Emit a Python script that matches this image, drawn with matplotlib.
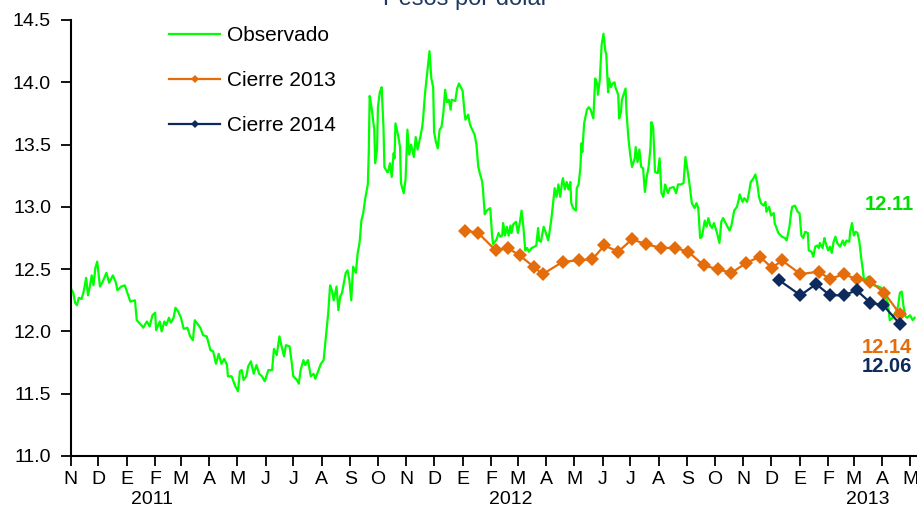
import matplotlib
matplotlib.use("Agg")
import matplotlib.pyplot as plt
import matplotlib.dates as mdates
import matplotlib.transforms as mtransforms
from matplotlib.ticker import FuncFormatter, MultipleLocator
import pandas as pd

plt.rcParams['font.family'] = ['Liberation Sans', 'DejaVu Sans']

# ---------------------------------------------------------------------------
# Datos
# ---------------------------------------------------------------------------
inicio = pd.Timestamp('2010-11-01')

# Tipo de cambio observado: días transcurridos desde el 1-nov-2010 y nivel
obs_dias = [
    0, 3, 5, 7, 9, 12, 14, 17, 19, 21,
    23, 25, 27, 29, 32, 35, 39, 42, 46, 49,
    51, 55, 59, 65, 70, 72, 77, 79, 83, 86,
    89, 92, 93, 97, 99, 102, 104, 107, 109, 112,
    114, 117, 120, 123, 127, 130, 133, 135, 141, 144,
    148, 152, 155, 158, 161, 164, 167, 170, 171, 175,
    179, 182, 184, 186, 188, 191, 193, 196, 199, 202,
    205, 208, 211, 215, 219, 221, 224, 227, 229, 232,
    234, 238, 240, 242, 246, 248, 250, 253, 255, 258,
    261, 264, 266, 269, 272, 275, 280, 282, 284, 286,
    289, 291, 293, 295, 299, 301, 303, 305, 307, 310,
    312, 314, 316, 318, 320, 323, 324, 325, 327, 330,
    331, 333, 334, 336, 338, 340, 341, 344, 345, 347,
    349, 351, 352, 353, 356, 358, 359, 362, 364, 366,
    368, 370, 373, 375, 377, 380, 382, 383, 385, 388,
    390, 392, 394, 395, 397, 399, 401, 403, 405, 407,
    409, 411, 413, 414, 418, 420, 422, 426, 428, 429,
    432, 434, 437, 439, 441, 443, 445, 447, 448, 450,
    452, 456, 458, 459, 463, 465, 467, 469, 470, 472,
    474, 476, 478, 479, 481, 484, 486, 488, 490, 492,
    494, 496, 498, 501, 504, 506, 508, 509, 511, 514,
    516, 519, 522, 524, 526, 528, 530, 532, 534, 535,
    537, 539, 541, 543, 544, 546, 549, 550, 552, 554,
    555, 556, 558, 561, 563, 565, 568, 570, 572, 573,
    575, 577, 579, 581, 582, 584, 585, 587, 589, 591,
    592, 595, 596, 598, 599, 603, 604, 606, 608, 610,
    613, 614, 616, 618, 620, 622, 624, 626, 628, 630,
    631, 633, 635, 638, 640, 642, 644, 646, 649, 651,
    655, 658, 660, 663, 666, 668, 671, 673, 675, 678,
    680, 682, 684, 686, 689, 691, 693, 695, 697, 699,
    702, 705, 707, 709, 713, 716, 718, 721, 724, 726,
    727, 730, 732, 735, 737, 739, 742, 744, 746, 748,
    750, 753, 755, 756, 759, 761, 764, 765, 769, 773,
    776, 778, 781, 783, 784, 787, 790, 792, 794, 796,
    798, 801, 802, 805, 807, 809, 811, 813, 814, 817,
    819, 820, 823, 825, 827, 829, 831, 833, 836, 839,
    841, 843, 846, 847, 849, 851, 853, 855, 857, 859,
    861, 862, 867, 871, 873, 878, 881, 885, 888, 890,
    893, 896, 899, 901, 903, 905, 907, 909, 912, 915, 917,
]
obs_valor = [
    12.35, 12.31, 12.23, 12.21, 12.27, 12.26, 12.31, 12.43, 12.29, 12.36,
    12.45, 12.37, 12.51, 12.56, 12.36, 12.40, 12.47, 12.39, 12.45, 12.40,
    12.33, 12.36, 12.37, 12.24, 12.25, 12.09, 12.05, 12.03, 12.08, 12.04,
    12.13, 12.15, 12.01, 12.08, 12.00, 12.08, 12.05, 12.11, 12.07, 12.11,
    12.19, 12.16, 12.11, 12.02, 12.03, 11.96, 11.93, 12.09, 12.03, 11.97,
    11.96, 11.85, 11.84, 11.74, 11.82, 11.74, 11.78, 11.73, 11.64, 11.64,
    11.56, 11.52, 11.68, 11.69, 11.61, 11.64, 11.72, 11.76, 11.66, 11.73,
    11.66, 11.64, 11.60, 11.69, 11.69, 11.86, 11.81, 11.96, 11.89, 11.80,
    11.89, 11.88, 11.77, 11.64, 11.61, 11.58, 11.69, 11.77, 11.73, 11.77,
    11.64, 11.66, 11.62, 11.68, 11.74, 11.77, 12.15, 12.37, 12.33, 12.25,
    12.36, 12.17, 12.28, 12.31, 12.47, 12.49, 12.41, 12.25, 12.52, 12.47,
    12.63, 12.71, 12.89, 12.95, 13.06, 13.18, 13.43, 13.89, 13.80, 13.62,
    13.35, 13.46, 13.80, 13.92, 13.96, 13.64, 13.32, 13.28, 13.28, 13.35,
    13.24, 13.43, 13.39, 13.67, 13.57, 13.48, 13.19, 13.11, 13.22, 13.62,
    13.42, 13.50, 13.40, 13.56, 13.46, 13.56, 13.64, 13.70, 13.90, 14.11,
    14.25, 14.03, 13.96, 13.60, 13.52, 13.47, 13.62, 13.64, 13.75, 13.94,
    13.84, 13.86, 13.78, 13.86, 13.85, 13.95, 13.99, 13.93, 13.76, 13.70,
    13.74, 13.66, 13.61, 13.58, 13.50, 13.32, 13.26, 13.21, 13.15, 12.94,
    12.97, 12.99, 12.77, 12.70, 12.74, 12.79, 12.76, 12.77, 12.87, 12.77,
    12.84, 12.77, 12.85, 12.79, 12.86, 12.88, 12.79, 12.87, 12.97, 12.84,
    12.65, 12.67, 12.64, 12.67, 12.68, 12.69, 12.83, 12.73, 12.72, 12.84,
    12.80, 12.73, 12.88, 13.01, 13.15, 13.08, 13.18, 13.08, 13.20, 13.23,
    13.14, 13.20, 13.14, 13.20, 13.03, 12.99, 12.97, 13.15, 13.18, 13.32,
    13.51, 13.44, 13.67, 13.78, 13.80, 13.78, 13.71, 14.03, 13.99, 13.90,
    14.02, 14.30, 14.39, 14.25, 14.23, 13.92, 14.03, 13.96, 13.99, 14.00,
    13.96, 13.90, 13.71, 13.76, 13.86, 13.95, 13.76, 13.56, 13.42, 13.32,
    13.39, 13.48, 13.36, 13.46, 13.32, 13.31, 13.12, 13.24, 13.32, 13.47,
    13.68, 13.64, 13.28, 13.27, 13.39, 13.11, 13.08, 13.18, 13.11, 13.15,
    13.16, 13.11, 13.18, 13.18, 13.19, 13.40, 13.26, 13.15, 13.03, 12.99,
    13.03, 12.99, 12.75, 12.76, 12.89, 12.84, 12.91, 12.85, 12.83, 12.87,
    12.80, 12.71, 12.88, 12.91, 12.85, 12.81, 12.85, 12.97, 13.00, 13.06,
    13.10, 13.04, 13.07, 13.04, 13.11, 13.20, 13.23, 13.26, 13.19, 13.08,
    13.03, 13.01, 13.04, 12.96, 13.00, 12.93, 12.95, 12.87, 12.79, 12.76,
    12.75, 12.73, 12.84, 12.96, 13.00, 13.01, 12.96, 12.95, 12.77, 12.75,
    12.80, 12.79, 12.65, 12.64, 12.60, 12.68, 12.69, 12.67, 12.71, 12.67,
    12.75, 12.72, 12.65, 12.68, 12.63, 12.72, 12.76, 12.71, 12.68, 12.73,
    12.69, 12.73, 12.72, 12.80, 12.87, 12.77, 12.80, 12.79, 12.72, 12.59,
    12.48, 12.41, 12.44, 12.41, 12.37, 12.36, 12.35, 12.28, 12.23, 12.09,
    12.11, 12.15, 12.20, 12.31, 12.32, 12.20, 12.12, 12.11, 12.13, 12.09, 12.11,
]

# Pronóstico del tipo de cambio al cierre de 2013 (encuesta quincenal)
cierre13_fechas = [
    '2012-01-04', '2012-01-18', '2012-02-06', '2012-02-19', '2012-03-03',
    '2012-03-18', '2012-03-28', '2012-04-19', '2012-05-06', '2012-05-21',
    '2012-06-03', '2012-06-18', '2012-07-03', '2012-07-18', '2012-08-04',
    '2012-08-19', '2012-09-02', '2012-09-19', '2012-10-04', '2012-10-19',
    '2012-11-04', '2012-11-19', '2012-12-02', '2012-12-13', '2013-01-02',
    '2013-01-22', '2013-02-03', '2013-02-18', '2013-03-04', '2013-03-19',
    '2013-04-03', '2013-04-20',
]
cierre13_valor = [
    12.81, 12.79, 12.65, 12.67, 12.61, 12.52, 12.46, 12.56, 12.57, 12.58,
    12.69, 12.64, 12.74, 12.70, 12.67, 12.67, 12.64, 12.53, 12.50, 12.47,
    12.55, 12.60, 12.51, 12.57, 12.46, 12.48, 12.42, 12.46, 12.42, 12.40,
    12.31, 12.14,
]

# Pronóstico del tipo de cambio al cierre de 2014
cierre14_fechas = [
    '2012-12-10', '2013-01-02', '2013-01-19', '2013-02-03', '2013-02-18',
    '2013-03-04', '2013-03-19', '2013-04-02', '2013-04-20',
]
cierre14_valor = [12.41, 12.29, 12.38, 12.29, 12.29, 12.33, 12.23, 12.21, 12.06]

iniciales_mes = ['E', 'F', 'M', 'A', 'M', 'J', 'J', 'A', 'S', 'O', 'N', 'D']
anios = ['2011', '2012', '2013']
anios_centro = ['2011-01-29', '2012-02-22', '2013-03-16']

titulo = 'Pesos por dólar'
etiquetas = ['Observado', 'Cierre 2013', 'Cierre 2014']

# ---------------------------------------------------------------------------
# Estilo
# ---------------------------------------------------------------------------
verde = '#00FF00'
verde_txt = '#00E000'
naranja = '#E46C0A'
marino = '#0E2A5C'
color_titulo = '#1F3A60'

obs_fechas = inicio + pd.to_timedelta(obs_dias, unit='D')
f13 = pd.to_datetime(cierre13_fechas)
f14 = pd.to_datetime(cierre14_fechas)

W, H = 917, 508
fig = plt.figure(figsize=(W / 100, H / 100), dpi=100)
ax = fig.add_axes([70.5 / W, 52 / H, (W - 70.5) / W, 436 / H])

l_obs, = ax.plot(obs_fechas, obs_valor, color=verde, lw=1.6, zorder=2)
l13, = ax.plot(f13, cierre13_valor, color=naranja, lw=1.6, marker='D',
               ms=7, mec=naranja, mew=0, zorder=3)
l14, = ax.plot(f14, cierre14_valor, color=marino, lw=1.6, marker='D',
               ms=7, mec=marino, mew=0, zorder=4)

# Ejes
ax.set_ylim(11.0, 14.5)
ax.set_xlim(inicio, inicio + pd.Timedelta(days=919.6))
ax.yaxis.set_major_locator(MultipleLocator(0.5))
ax.yaxis.set_major_formatter(FuncFormatter(lambda v, p: f'{v:.1f}'))
ax.xaxis.set_major_locator(mdates.MonthLocator())
ax.xaxis.set_major_formatter(
    FuncFormatter(lambda v, p: iniciales_mes[mdates.num2date(v).month - 1]))

for s in ('top', 'right'):
    ax.spines[s].set_visible(False)
for s in ('left', 'bottom'):
    ax.spines[s].set_linewidth(1.5)
    ax.spines[s].set_color('black')

ax.tick_params(axis='y', direction='out', length=7, width=1.3, pad=7,
               labelsize=14, colors='black')
ax.tick_params(axis='x', direction='out', length=7, width=1.3, pad=4,
               labelsize=14, colors='black')

# Años bajo las iniciales de los meses
trans = mtransforms.blended_transform_factory(ax.transData, ax.transAxes)
for a, c in zip(anios, anios_centro):
    ax.text(pd.Timestamp(c), -0.109, a, transform=trans, ha='center',
            va='baseline', fontsize=14, clip_on=False)

# Título (parcialmente fuera del lienzo)
fig.text(466 / W, 1 - 5.5 / H, titulo, ha='center', va='baseline',
         fontsize=17, color=color_titulo)

# Leyenda
ax.legend([l_obs, l13, l14], etiquetas, loc='upper left',
          bbox_to_anchor=(169 / W, 1 - 26 / H), bbox_transform=fig.transFigure,
          frameon=False, fontsize=15, handlelength=2.45, handletextpad=0.35,
          labelspacing=1.25, borderpad=0, borderaxespad=0, markerscale=0.55,
          numpoints=1)

# Último valor de cada serie
ax.annotate(f'{obs_valor[-1]:.2f}', xy=(obs_fechas[-1], obs_valor[-1]),
            xytext=(-50, 113), textcoords='offset pixels', ha='left',
            va='center', fontsize=14.5, fontweight='bold', color=verde_txt,
            annotation_clip=False)
ax.annotate(f'{cierre13_valor[-1]:.2f}', xy=(f13[-1], cierre13_valor[-1]),
            xytext=(-38, -34), textcoords='offset pixels', ha='left',
            va='center', fontsize=14.5, fontweight='bold', color=naranja,
            annotation_clip=False)
ax.annotate(f'{cierre14_valor[-1]:.2f}', xy=(f14[-1], cierre14_valor[-1]),
            xytext=(-38, -43), textcoords='offset pixels', ha='left',
            va='center', fontsize=14.5, fontweight='bold', color=marino,
            annotation_clip=False)

fig.savefig('out.png', dpi=100)
